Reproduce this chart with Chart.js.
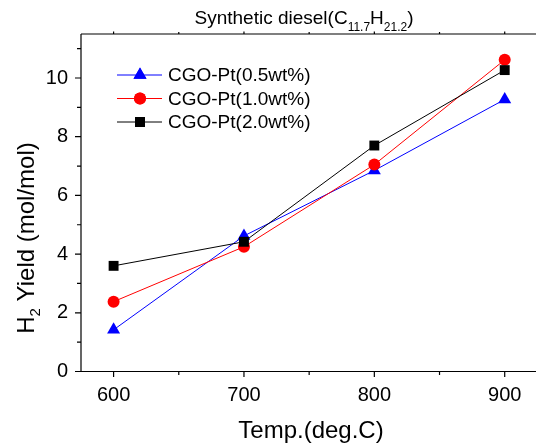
<!DOCTYPE html>
<html>
<head>
<meta charset="utf-8">
<script src="https://cdn.jsdelivr.net/npm/chart.js@4"></script>
<style>
  html, body { margin: 0; padding: 0; background: #fff; }
</style>
</head>
<body>
<canvas id="chart" width="536" height="444"></canvas>
<script>
// data
var temps = [600, 700, 800, 900];
var pt05 = [1.42, 4.62, 6.85, 9.27];
var pt10 = [2.38, 4.25, 7.05, 10.62];
var pt20 = [3.60, 4.42, 7.70, 10.27];
var seriesNames = ['CGO-Pt(0.5wt%)', 'CGO-Pt(1.0wt%)', 'CGO-Pt(2.0wt%)'];
var xTicks = [600, 700, 800, 900];
var xMinor = [650, 750, 850];
var yTicks = [0, 2, 4, 6, 8, 10];
var yMinor = [1, 3, 5, 7, 9, 11];

var FONT = "'Liberation Sans', Arial, sans-serif";

function pts(vals) {
  return temps.map(function (t, i) { return { x: t, y: vals[i] }; });
}

function makeSet(label, vals, color, style, radius, order) {
  return {
    label: label,
    data: pts(vals),
    borderColor: color,
    backgroundColor: color,
    borderWidth: 1,
    pointStyle: style,
    pointRadius: radius,
    pointHoverRadius: radius,
    pointBorderWidth: 0,
    tension: 0,
    clip: false,
    order: order
  };
}

var datasets = [
  makeSet(seriesNames[0], pt05, '#0000ff', 'triangle', 7.5, 2),
  makeSet(seriesNames[1], pt10, '#ff0000', 'circle', 6, 1),
  makeSet(seriesNames[2], pt20, '#000000', 'rect', 7, 0)
];

// axes, legend and titles with subscripts
var decor = {
  id: 'decor',
  beforeDatasetsDraw: function (chart) {
    var ctx = chart.ctx, a = chart.chartArea;
    var xs = chart.scales.x, ys = chart.scales.y;
    ctx.save();
    ctx.strokeStyle = '#000';
    ctx.lineWidth = 1.2;
    ctx.beginPath();
    ctx.moveTo(81, a.top); ctx.lineTo(81, a.bottom);
    ctx.moveTo(81, a.bottom); ctx.lineTo(a.right, a.bottom);
    ctx.moveTo(81, a.top); ctx.lineTo(a.right, a.top);
    yTicks.forEach(function (v) { var p = ys.getPixelForValue(v); ctx.moveTo(75, p); ctx.lineTo(81, p); });
    yMinor.forEach(function (v) { var p = ys.getPixelForValue(v); ctx.moveTo(77, p); ctx.lineTo(81, p); });
    xTicks.forEach(function (v) {
      var p = xs.getPixelForValue(v);
      ctx.moveTo(p, a.bottom); ctx.lineTo(p, a.bottom + 5.5);
      ctx.moveTo(p, a.top); ctx.lineTo(p, a.top - 2.5);
    });
    xMinor.forEach(function (v) {
      var p = xs.getPixelForValue(v);
      ctx.moveTo(p, a.bottom); ctx.lineTo(p, a.bottom + 3.5);
      ctx.moveTo(p, a.top); ctx.lineTo(p, a.top - 2);
    });
    ctx.stroke();
    ctx.restore();
  },
  afterDraw: function (chart) {
    var ctx = chart.ctx;
    ctx.save();
    ctx.fillStyle = '#000';
    ctx.textBaseline = 'alphabetic';

    // chart title
    var parts = [['Synthetic diesel(C', 19, 0], ['11.7', 12, 7], ['H', 19, 0], ['21.2', 12, 7], [')', 19, 0]];
    var total = 0;
    parts.forEach(function (p) { ctx.font = p[1] + 'px ' + FONT; total += ctx.measureText(p[0]).width; });
    var x = 304 - total / 2;
    parts.forEach(function (p) {
      ctx.font = p[1] + 'px ' + FONT;
      ctx.fillText(p[0], x, 24 + p[2]);
      x += ctx.measureText(p[0]).width;
    });

    // x title
    ctx.font = '24px ' + FONT;
    ctx.textAlign = 'center';
    ctx.fillText('Temp.(deg.C)', 311, 438);

    // y title
    ctx.save();
    ctx.translate(34, 238);
    ctx.rotate(-Math.PI / 2);
    ctx.textAlign = 'left';
    var yparts = [['H', 24, 0], ['2', 15, 6], [' Yield (mol/mol)', 24, 0]];
    var yt = 0;
    yparts.forEach(function (p) { ctx.font = p[1] + 'px ' + FONT; yt += ctx.measureText(p[0]).width; });
    var yx = -yt / 2;
    yparts.forEach(function (p) {
      ctx.font = p[1] + 'px ' + FONT;
      ctx.fillText(p[0], yx, p[2]);
      yx += ctx.measureText(p[0]).width;
    });
    ctx.restore();

    // legend
    ctx.textAlign = 'left';
    ctx.textBaseline = 'middle';
    ctx.font = '19px ' + FONT;
    datasets.forEach(function (ds, i) {
      var ly = 75 + i * 23.5;
      ctx.strokeStyle = ds.borderColor;
      ctx.lineWidth = 1;
      ctx.beginPath();
      ctx.moveTo(117, ly); ctx.lineTo(162, ly);
      ctx.stroke();
      ctx.fillStyle = ds.backgroundColor;
      Chart.helpers.drawPoint(ctx, { pointStyle: ds.pointStyle, radius: ds.pointRadius, borderWidth: 0, rotation: 0 }, 140, ly);
      ctx.fill();
      ctx.fillStyle = '#000';
      ctx.fillText(ds.label, 168, ly + 1);
    });
    ctx.restore();
  }
};

var config = {
  type: 'line',
  data: { datasets: datasets },
  options: {
    responsive: false,
    animation: false,
    devicePixelRatio: 1,
    layout: { autoPadding: false, padding: { top: 34, left: 0, right: 0, bottom: 0 } },
    plugins: { legend: { display: false }, tooltip: { enabled: false } },
    scales: {
      x: {
        type: 'linear',
        min: 575,
        max: 924,
        grid: { display: false, drawTicks: false },
        border: { display: false },
        ticks: { font: { family: FONT, size: 20 }, color: '#000', padding: 12 },
        afterBuildTicks: function (s) { s.ticks = xTicks.map(function (v) { return { value: v }; }); },
        afterFit: function (s) { s.height = 72.5; }
      },
      y: {
        min: 0,
        max: 11.5,
        grid: { display: false, drawTicks: false },
        border: { display: false },
        ticks: { font: { family: FONT, size: 20 }, color: '#000', padding: 13 },
        afterBuildTicks: function (s) { s.ticks = yTicks.map(function (v) { return { value: v }; }); },
        afterFit: function (s) { s.width = 81; }
      }
    }
  },
  plugins: [decor]
};

var chart = new Chart(document.getElementById('chart'), config);
</script>
</body>
</html>
